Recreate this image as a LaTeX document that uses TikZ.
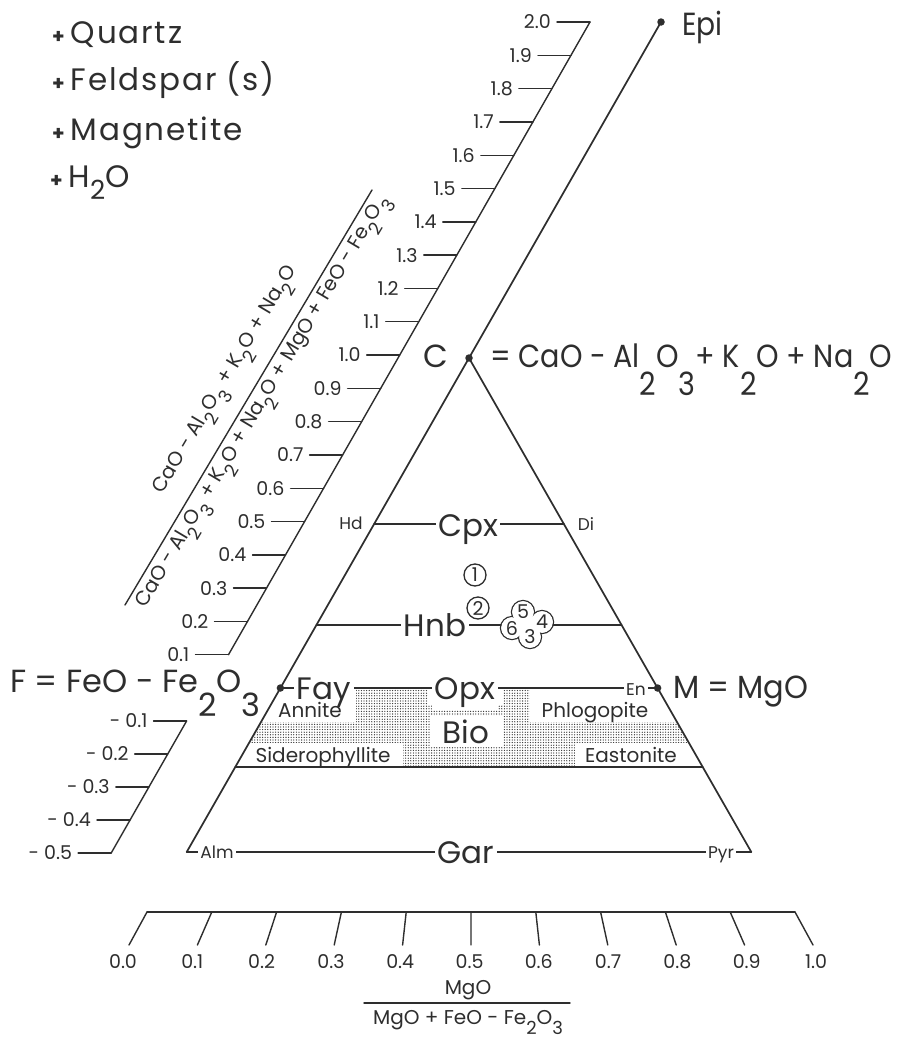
\documentclass[tikz,border=0pt]{standalone}
\usepackage{fontspec}
\setmainfont{Poppins}
\newfontfamily\legfont{Poppins}[LetterSpace=6]
\usetikzlibrary{patterns.meta}
\definecolor{ink}{HTML}{2E2E2E}
\newcommand{\lo}[2][0.85]{\raisebox{-#1em}{#2}}
\newcommand{\dn}[1]{\raisebox{-0.5em}{\scalebox{0.9}{#1}}}
\newcommand{\dnleg}[1]{\raisebox{-0.4em}{\scalebox{0.85}{#1}}}
\newcommand{\lplus}{{\fontsize{20}{20}\selectfont\bfseries +}\hspace{6pt}}
\begin{document}
\begin{tikzpicture}[x=1pt,y=-1pt,line cap=round,line join=round]
\tikzset{
 every node/.style={inner sep=0pt,text=ink},
 big/.style={font=\fontsize{32}{36}\selectfont},
 leg/.style={font=\legfont\fontsize{31}{36}\selectfont},
 mid/.style={font=\fontsize{31}{36}\selectfont},
 sml/.style={font=\fontsize{17}{20}\selectfont},
 bio/.style={font=\fontsize{20}{24}\selectfont},
 num/.style={font=\fontsize{19}{22}\selectfont},
 rot/.style={font=\fontsize{20}{24}\selectfont},
 wbg/.style={fill=white,inner sep=2.5pt},
 ln/.style={draw=ink,line width=1.7pt},
 tk/.style={draw=ink,line width=1.4pt},
 dotm/.style={circle,fill=ink,inner sep=0pt,minimum size=7.5pt},
 cnum/.style={font=\fontsize{19}{22}\selectfont},
 circnum/.style={circle,draw=ink,line width=1.3pt,minimum size=22pt,inner sep=0pt,fill=white,cnum},
}
\fill[white] (0,0) rectangle (905,1039);
\useasboundingbox (0,0) rectangle (905,1039);

% key points
\coordinate (epi) at (661,22);
\coordinate (c) at (469,358);
\coordinate (f) at (280.4,688);
\coordinate (m) at (657.6,688);
\coordinate (bl) at (186.7,852);
\coordinate (br) at (751.3,852);
\coordinate (hdL) at (374.1,524);
\coordinate (diR) at (563.9,524);
\coordinate (hnL) at (316.4,625);
\coordinate (hnR) at (621.6,625);
\coordinate (bbL) at (235.3,767);
\coordinate (bbR) at (702.7,767);

% biotite stipple
\begin{scope}
\clip (f) -- (m) -- (bbR) -- (bbL) -- cycle;
\fill[pattern={Dots[distance=2.6pt,radius=0.65pt]},pattern color=ink] (f) -- (m) -- (bbR) -- (bbL) -- cycle;
\fill[white] (200,686) rectangle (356,722);
\fill[white] (530,686) rectangle (720,722);
\fill[white] (430,716) rectangle (503,747);
\fill[white] (428,686) rectangle (503,705);
\fill[white] (200,743) rectangle (403,767);
\fill[white] (575,743) rectangle (720,767);
\end{scope}

% triangle and tie lines
\draw[ln] (epi) -- (bl);
\draw[ln] (c) -- (br);
\draw[ln] (hdL) -- (diR);
\draw[ln] (hnL) -- (hnR);
\draw[ln] (f) -- (m);
\draw[ln] (bbL) -- (bbR);
\draw[ln] (bl) -- (br);

% upper scale
\coordinate (sTop) at (590,22);
\coordinate (sBot) at (228.5,654.7);
\draw[tk] (sBot) -- (sTop);
\foreach \k/\t in {1/0.1,2/0.2,3/0.3,4/0.4,5/0.5,6/0.6,7/0.7,8/0.8,9/0.9,10/1.0,11/1.1,12/1.2,13/1.3,14/1.4,15/1.5,16/1.6,17/1.7,18/1.8,19/1.9,20/2.0}{
 \pgfmathsetmacro\yy{688-\k*33.3}
 \pgfmathsetmacro\xx{469-(\yy-358)*0.5714-71}
 \coordinate (ut\k) at (\xx,\yy);
 \draw[tk] (ut\k) -- ++(-33,0) coordinate (uq\k);
 \node[num,anchor=east,xshift=-6pt] (ul\k) at (uq\k) {\t};
}

% lower (negative) scale
\coordinate (nTop) at (186.6,721);
\coordinate (nBot) at (111.2,853);
\draw[tk] (nTop) -- (nBot);
\foreach \k in {1,...,5}{
 \pgfmathsetmacro\yy{688+\k*33}
 \pgfmathsetmacro\xx{469-(\yy-358)*0.5714-75}
 \coordinate (nt\k) at (\xx,\yy);
 \draw[tk] (nt\k) -- ++(-33,0) coordinate (nq\k);
 \node[num,anchor=east,xshift=-6pt] (nl\k) at (nq\k) {- 0.\k};
}

% bottom scale
\coordinate (bsL) at (147,912);
\coordinate (bsR) at (795,912);
\draw[tk] (bsL) -- (bsR);
\foreach \i/\t in {0/0.0,1/0.1,2/0.2,3/0.3,4/0.4,5/0.5,6/0.6,7/0.7,8/0.8,9/0.9,10/1.0}{
 \coordinate (bt\i) at (147+64.8*\i,912);
 \coordinate (bb\i) at (129+68.4*\i,945);
 \draw[tk] (bt\i) -- (bb\i);
 \node[num] (bn\i) at (123+69.3*\i,962) {\t};
}
\node[bio] (frN) at (468,990) {MgO};
\coordinate (frL) at (364,1003);
\coordinate (frR) at (570,1003);
\draw[tk] (frL) -- (frR);
\node[bio,anchor=base] (frD) at (468,1024) {MgO + FeO - Fe\dn{2}O\dn{3}};

% rotated ratio label
\coordinate (fb1) at (125,605);
\coordinate (fb2) at (372,190);
\draw[tk] (fb1) -- (fb2);
\node[rot,rotate=59.3] (ratN) at (227.8,381) {CaO - Al\dn{2}O\dn{3} + K\dn{2}O + Na\dn{2}O};
\node[rot,rotate=59.3] (ratD) at (264.8,403) {CaO - Al\dn{2}O\dn{3} + K\dn{2}O + Na\dn{2}O + MgO + FeO - Fe\dn{2}O\dn{3}};

% legend
\node[leg,anchor=base west] (lq) at (52,43) {\lplus Quartz};
\node[leg,anchor=base west] (lf) at (52,90) {\lplus Feldspar (s)};
\node[leg,anchor=base west] (lm) at (52,140) {\lplus Magnetite};
\node[leg,anchor=base west] (lh) at (50,187) {\lplus H\dnleg{2}O};

% apex labels
\node[big,anchor=base west] (epiL) at (682,35) {\scalebox{0.88}[1]{Epi}};
\node[big,anchor=base east] (cL) at (448,367) {C};
\node[big,anchor=base west] (cEq) at (490,367) {\scalebox{0.895}[1]{= CaO - Al\lo[0.9]{2}O\lo[0.9]{3}+ K\lo[0.9]{2}O + Na\lo[0.9]{2}O}};
\node[big,anchor=base west] (fL) at (10,692) {F = FeO - Fe\lo[0.75]{2}O\lo[0.75]{3}};
\node[big,anchor=base west] (mL) at (673,698) {\scalebox{0.95}[1]{M = MgO}};

% phase labels on lines
\node[mid,wbg,anchor=base] (cpx) at (468,536) {Cpx};
\node[mid,wbg,anchor=base] (hnb) at (435,636) {Hnb};
\node[mid,wbg,anchor=base] (opx) at (465,699) {Opx};
\node[mid,wbg,anchor=base] (fay) at (324,699) {Fay};
\node[mid,wbg,anchor=base] (gar) at (466,863) {Gar};
\node[sml,wbg,anchor=base] (en) at (636,695) {En};
\node[sml,wbg,anchor=base] (alm) at (217,858) {Alm};
\node[sml,wbg,anchor=base] (pyr) at (721,858) {Pyr};
\node[sml,anchor=base] (hd) at (351,529) {Hd};
\node[sml,anchor=base] (di) at (586,530) {Di};

% biotite labels
\node[bio,anchor=base] (ann) at (310,717) {Annite};
\node[bio,anchor=base] (phl) at (595,717) {Phlogopite};
\node[mid,anchor=base] (bio) at (466,743) {Bio};
\node[bio,anchor=base] (sid) at (323,762) {Siderophyllite};
\node[bio,anchor=base] (eas) at (631,762) {Eastonite};

% circled analyses
\node[circnum] (a1) at (475,575) {1};
\node[circnum] (a2) at (478,608) {2};
\foreach \p in {(523,612),(542,622),(512,628),(530,637)}
 \draw[draw=ink,line width=1.3pt] \p circle (11.5);
\foreach \p in {(523,612),(542,622),(512,628),(530,637)}
 \fill[white] \p circle (10.8);
\fill[white] (523,612) -- (542,622) -- (530,637) -- (512,628) -- cycle;
\node[cnum] (a5) at (523,612) {5};
\node[cnum] (a4) at (542,622) {4};
\node[cnum] (a6) at (512,628) {6};
\node[cnum] (a3) at (530,637) {3};

% end-member points
\node[dotm] (epiD) at (epi) {};
\node[dotm] (cD) at (c) {};
\node[dotm] (fD) at (f) {};
\node[dotm] (mD) at (m) {};
\end{tikzpicture}
\end{document}
